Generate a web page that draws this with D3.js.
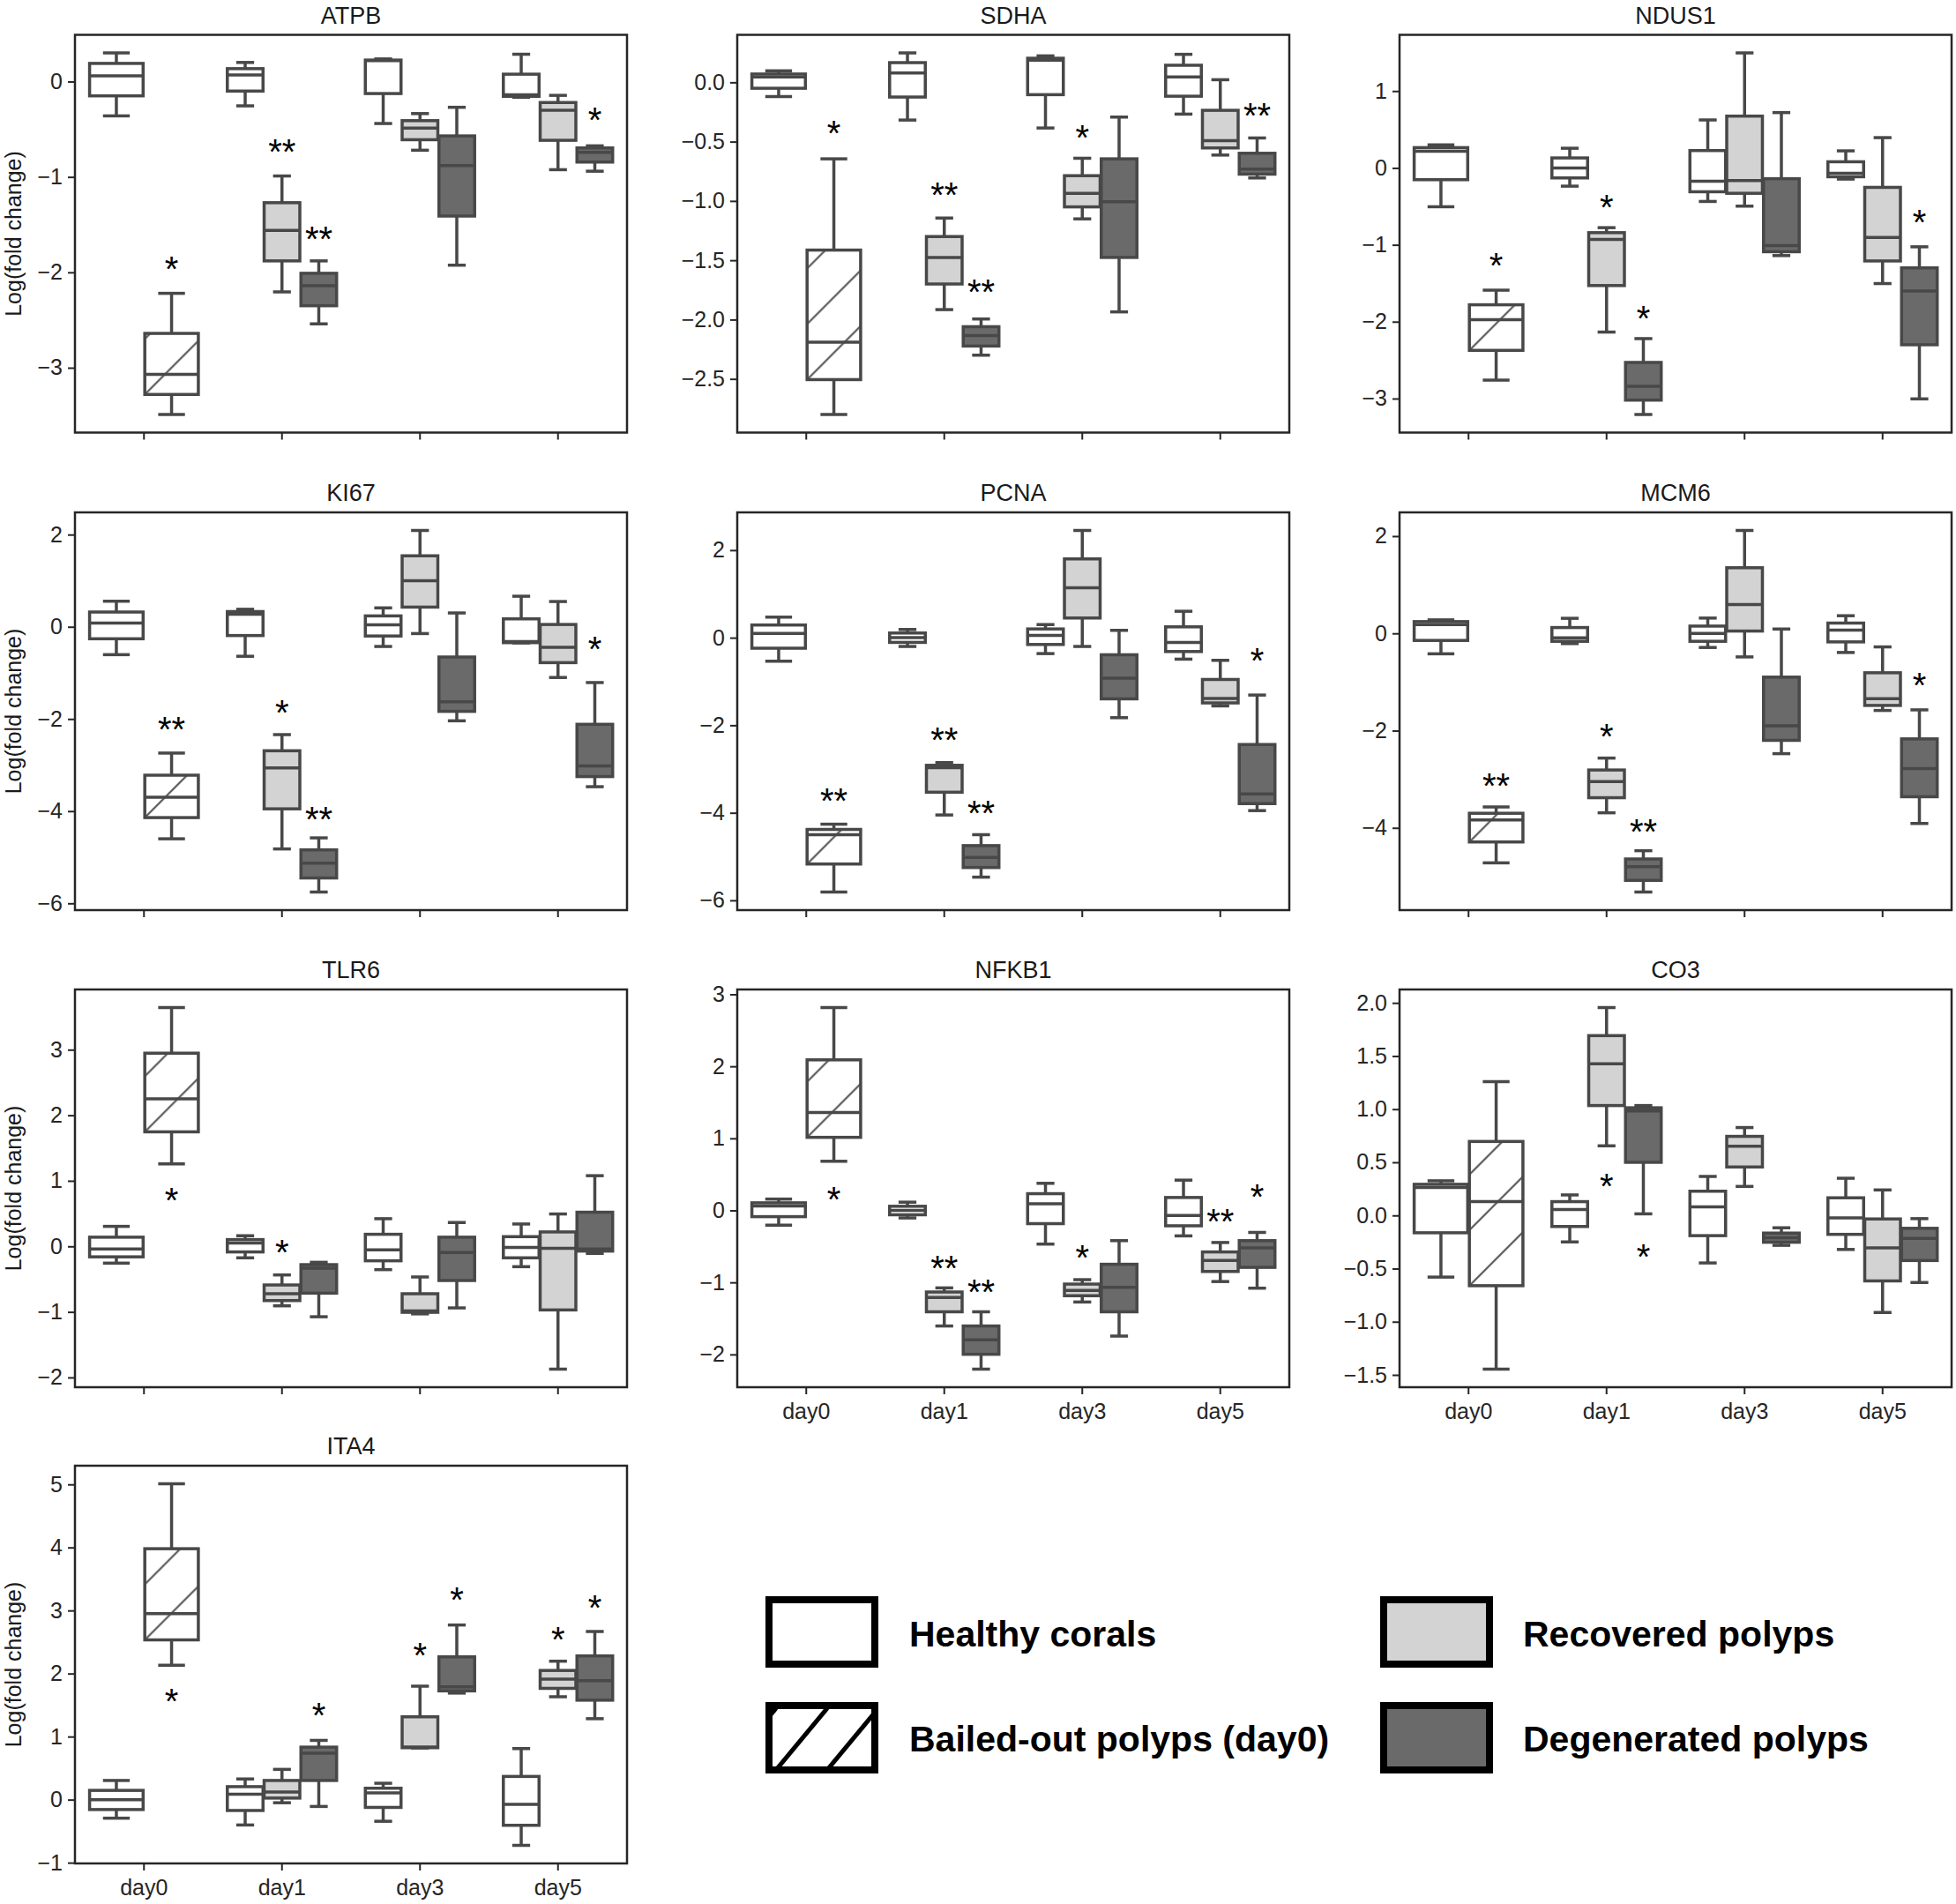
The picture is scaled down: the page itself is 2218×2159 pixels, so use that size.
<!DOCTYPE html>
<html>
<head>
<meta charset="utf-8">
<script src="https://cdn.jsdelivr.net/npm/d3@7"></script>
<style>
  body { margin: 0; background: #fff; }
  text { font-family: "Liberation Sans", Arial, Helvetica, sans-serif; }
</style>
</head>
<body>
<svg id="chart" width="2218" height="2159"></svg>
<script>
const days = ["day0", "day1", "day3", "day5"];
const genes = ["ATPB", "SDHA", "NDUS1", "KI67", "PCNA", "MCM6", "TLR6", "NFKB1", "CO3", "ITA4"];
const groupKeys = ["H", "B", "R", "D"];
const groupNames = ["Healthy corals", "Bailed-out polyps (day0)", "Recovered polyps", "Degenerated polyps"];

// rows: [day, group, low whisker, Q1, median, Q3, high whisker]
const atpb = [
  ["day0", "H", -0.36, -0.15, 0.06, 0.19, 0.30],
  ["day0", "B", -3.49, -3.28, -3.07, -2.64, -2.22],
  ["day1", "H", -0.255, -0.10, 0.07, 0.135, 0.20],
  ["day1", "R", -2.205, -1.88, -1.56, -1.27, -0.99],
  ["day1", "D", -2.54, -2.35, -2.14, -2.01, -1.88],
  ["day3", "H", -0.44, -0.126, 0.22, 0.225, 0.237],
  ["day3", "R", -0.72, -0.61, -0.487, -0.41, -0.336],
  ["day3", "D", -1.925, -1.41, -0.88, -0.57, -0.27],
  ["day5", "H", -0.165, -0.155, -0.14, 0.077, 0.286],
  ["day5", "R", -0.924, -0.616, -0.30, -0.22, -0.145],
  ["day5", "D", -0.94, -0.844, -0.742, -0.696, -0.674]
];
const sdha = [
  ["day0", "H", -0.12, -0.05, 0.045, 0.07, 0.097],
  ["day0", "B", -2.80, -2.506, -2.19, -1.414, -0.645],
  ["day1", "H", -0.318, -0.124, 0.079, 0.166, 0.248],
  ["day1", "R", -1.916, -1.70, -1.476, -1.30, -1.144],
  ["day1", "D", -2.30, -2.223, -2.134, -2.06, -1.995],
  ["day3", "H", -0.385, -0.104, 0.186, 0.203, 0.223],
  ["day3", "R", -1.151, -1.05, -0.935, -0.787, -0.64],
  ["day3", "D", -1.935, -1.476, -1.007, -0.645, -0.293],
  ["day5", "H", -0.268, -0.117, 0.045, 0.144, 0.236],
  ["day5", "R", -0.613, -0.553, -0.491, -0.236, 0.022],
  ["day5", "D", -0.806, -0.774, -0.732, -0.598, -0.469]
];
const ndus1 = [
  ["day0", "H", -0.505, -0.153, 0.218, 0.264, 0.30],
  ["day0", "B", -2.76, -2.373, -1.975, -1.78, -1.59],
  ["day1", "H", -0.237, -0.13, 0.0, 0.13, 0.256],
  ["day1", "R", -2.135, -1.53, -0.93, -0.842, -0.777],
  ["day1", "D", -3.207, -3.02, -2.84, -2.53, -2.22],
  ["day3", "H", -0.436, -0.31, -0.172, 0.226, 0.624],
  ["day3", "R", -0.497, -0.33, -0.165, 0.674, 1.496],
  ["day3", "D", -1.14, -1.09, -1.01, -0.14, 0.72],
  ["day5", "H", -0.145, -0.115, -0.069, 0.08, 0.222],
  ["day5", "R", -1.504, -1.21, -0.903, -0.253, 0.394],
  ["day5", "D", -3.004, -2.30, -1.60, -1.30, -1.026]
];
const ki67 = [
  ["day0", "H", -0.605, -0.26, 0.083, 0.32, 0.555],
  ["day0", "B", -4.60, -4.14, -3.70, -3.22, -2.74],
  ["day1", "H", -0.64, -0.19, 0.27, 0.33, 0.38],
  ["day1", "R", -4.82, -3.95, -3.06, -2.69, -2.34],
  ["day1", "D", -5.755, -5.45, -5.13, -4.84, -4.58],
  ["day3", "H", -0.427, -0.20, 0.045, 0.236, 0.41],
  ["day3", "R", -0.147, 0.427, 1.0, 1.54, 2.09],
  ["day3", "D", -2.04, -1.835, -1.625, -0.656, 0.30],
  ["day5", "H", -0.35, -0.344, -0.32, 0.172, 0.663],
  ["day5", "R", -1.10, -0.778, -0.446, 0.05, 0.548],
  ["day5", "D", -3.47, -3.25, -3.02, -2.116, -1.21]
];
const pcna = [
  ["day0", "H", -0.537, -0.24, 0.10, 0.29, 0.47],
  ["day0", "B", -5.81, -5.17, -4.50, -4.38, -4.26],
  ["day1", "H", -0.20, -0.107, 0.0, 0.107, 0.188],
  ["day1", "R", -4.05, -3.53, -2.97, -2.915, -2.854],
  ["day1", "D", -5.47, -5.25, -5.02, -4.75, -4.50],
  ["day3", "H", -0.363, -0.155, 0.054, 0.20, 0.30],
  ["day3", "R", -0.20, 0.45, 1.14, 1.80, 2.45],
  ["day3", "D", -1.827, -1.397, -0.927, -0.39, 0.168],
  ["day5", "H", -0.49, -0.316, -0.107, 0.248, 0.604],
  ["day5", "R", -1.558, -1.49, -1.39, -0.954, -0.517],
  ["day5", "D", -3.95, -3.79, -3.57, -2.44, -1.31]
];
const mcm6 = [
  ["day0", "H", -0.42, -0.145, 0.18, 0.242, 0.278],
  ["day0", "B", -4.72, -4.29, -3.835, -3.70, -3.57],
  ["day1", "H", -0.21, -0.163, -0.09, 0.12, 0.31],
  ["day1", "R", -3.69, -3.38, -3.05, -2.81, -2.565],
  ["day1", "D", -5.32, -5.08, -4.80, -4.64, -4.47],
  ["day3", "H", -0.29, -0.163, 0.0, 0.15, 0.315],
  ["day3", "R", -0.484, 0.048, 0.593, 1.35, 2.117],
  ["day3", "D", -2.474, -2.20, -1.90, -0.90, 0.09],
  ["day5", "H", -0.393, -0.175, 0.067, 0.212, 0.363],
  ["day5", "R", -1.585, -1.482, -1.343, -0.81, -0.278],
  ["day5", "D", -3.91, -3.36, -2.78, -2.17, -1.573]
];
const tlr6 = [
  ["day0", "H", -0.256, -0.16, -0.04, 0.14, 0.305],
  ["day0", "B", 1.258, 1.747, 2.25, 2.947, 3.643],
  ["day1", "H", -0.175, -0.085, 0.05, 0.103, 0.162],
  ["day1", "R", -0.907, -0.827, -0.723, -0.589, -0.436],
  ["day1", "D", -1.074, -0.714, -0.332, -0.279, -0.243],
  ["day3", "H", -0.355, -0.22, -0.054, 0.184, 0.422],
  ["day3", "R", -1.03, -1.006, -0.984, -0.723, -0.467],
  ["day3", "D", -0.939, -0.521, -0.094, 0.14, 0.364],
  ["day5", "H", -0.31, -0.175, -0.018, 0.148, 0.341],
  ["day5", "R", -1.873, -0.97, -0.031, 0.22, 0.494],
  ["day5", "D", -0.108, -0.072, -0.04, 0.521, 1.078]
];
const nfkb1 = [
  ["day0", "H", -0.205, -0.087, 0.061, 0.105, 0.157],
  ["day0", "B", 0.682, 1.014, 1.36, 2.09, 2.816],
  ["day1", "H", -0.105, -0.061, 0.0, 0.057, 0.114],
  ["day1", "R", -1.605, -1.408, -1.21, -1.133, -1.076],
  ["day1", "D", -2.204, -1.998, -1.797, -1.605, -1.408],
  ["day3", "H", -0.468, -0.184, 0.092, 0.232, 0.376],
  ["day3", "R", -1.272, -1.185, -1.111, -1.023, -0.962],
  ["day3", "D", -1.745, -1.408, -1.067, -0.748, -0.42],
  ["day5", "H", -0.354, -0.214, -0.07, 0.179, 0.42],
  ["day5", "R", -0.988, -0.848, -0.695, -0.577, -0.446],
  ["day5", "D", -1.08, -0.791, -0.52, -0.42, -0.306]
];
const co3 = [
  ["day0", "H", -0.58, -0.163, 0.264, 0.293, 0.326],
  ["day0", "B", -1.446, -0.661, 0.13, 0.696, 1.259],
  ["day1", "H", -0.249, -0.104, 0.056, 0.13, 0.193],
  ["day1", "R", 0.655, 1.034, 1.428, 1.692, 1.956],
  ["day1", "D", 0.015, 0.50, 0.984, 1.013, 1.034],
  ["day3", "H", -0.447, -0.19, 0.08, 0.228, 0.367],
  ["day3", "R", 0.273, 0.456, 0.652, 0.744, 0.827],
  ["day3", "D", -0.281, -0.252, -0.21, -0.166, -0.116],
  ["day5", "H", -0.32, -0.178, -0.024, 0.166, 0.35],
  ["day5", "R", -0.913, -0.616, -0.305, -0.033, 0.24],
  ["day5", "D", -0.631, -0.424, -0.216, -0.121, -0.03]
];
const ita4 = [
  ["day0", "H", -0.294, -0.157, 0.0, 0.147, 0.304],
  ["day0", "B", 2.132, 2.534, 2.95, 3.98, 5.01],
  ["day1", "H", -0.402, -0.172, 0.088, 0.206, 0.328],
  ["day1", "R", -0.049, 0.025, 0.123, 0.304, 0.48],
  ["day1", "D", -0.108, 0.304, 0.735, 0.833, 0.94],
  ["day3", "H", -0.343, -0.123, 0.108, 0.181, 0.26],
  ["day3", "R", 0.82, 0.824, 0.833, 1.314, 1.80],
  ["day3", "D", 1.69, 1.725, 1.79, 2.265, 2.77],
  ["day5", "H", -0.725, -0.407, -0.074, 0.368, 0.81],
  ["day5", "R", 1.632, 1.765, 1.912, 2.049, 2.196],
  ["day5", "D", 1.284, 1.578, 1.887, 2.28, 2.667]
];

// significance marks: [day, group, y value, label]
const atpbStars = [["day0", "B", -1.88, "*"], ["day1", "R", -0.656, "**"], ["day1", "D", -1.565, "**"], ["day5", "D", -0.317, "*"]];
const sdhaStars = [["day0", "B", -0.36, "*"], ["day1", "R", -0.88, "**"], ["day1", "D", -1.70, "**"], ["day3", "R", -0.40, "*"], ["day5", "D", -0.21, "**"]];
const ndus1Stars = [["day0", "B", -1.16, "*"], ["day1", "R", -0.406, "*"], ["day1", "D", -1.85, "*"], ["day5", "D", -0.605, "*"]];
const ki67Stars = [["day0", "B", -2.05, "**"], ["day1", "R", -1.69, "*"], ["day1", "D", -4.0, "**"], ["day5", "D", -0.306, "*"]];
const pcnaStars = [["day0", "B", -3.54, "**"], ["day1", "R", -2.16, "**"], ["day1", "D", -3.83, "**"], ["day5", "D", -0.35, "*"]];
const mcm6Stars = [["day0", "B", -2.98, "**"], ["day1", "R", -1.95, "*"], ["day1", "D", -3.92, "**"], ["day5", "D", -0.90, "*"]];
const tlr6Stars = [["day0", "B", 0.83, "*"], ["day1", "R", 0.027, "*"]];
const nfkb1Stars = [["day0", "B", 0.267, "*"], ["day1", "R", -0.687, "**"], ["day1", "D", -1.023, "**"], ["day3", "R", -0.542, "*"], ["day5", "R", -0.04, "**"], ["day5", "D", 0.30, "*"]];
const co3Stars = [["day1", "R", 0.347, "*"], ["day1", "D", -0.314, "*"]];
const ita4Stars = [["day0", "B", 1.69, "*"], ["day1", "D", 1.47, "*"], ["day3", "R", 2.417, "*"], ["day3", "D", 3.29, "*"], ["day5", "R", 2.67, "*"], ["day5", "D", 3.17, "*"]];

const yTicks = [
  [-3, -2, -1, 0],
  [-2.5, -2, -1.5, -1, -0.5, 0],
  [-3, -2, -1, 0, 1],
  [-6, -4, -2, 0, 2],
  [-6, -4, -2, 0, 2],
  [-4, -2, 0, 2],
  [-2, -1, 0, 1, 2, 3],
  [-2, -1, 0, 1, 2, 3],
  [-1.5, -1, -0.5, 0, 0.5, 1, 1.5, 2],
  [-1, 0, 1, 2, 3, 4, 5]
];

const boxes = [atpb, sdha, ndus1, ki67, pcna, mcm6, tlr6, nfkb1, co3, ita4];
const stars = [atpbStars, sdhaStars, ndus1Stars, ki67Stars, pcnaStars, mcm6Stars, tlr6Stars, nfkb1Stars, co3Stars, ita4Stars];

// ---- layout / style ----
const fills = { H: "#ffffff", B: "#ffffff", R: "#d3d3d3", D: "#6a6a6a" };
const lineCol = "#484848";
const W = 626, H = 451;
const colX = [85, 836, 1587];
const rowY = [39.5, 581, 1122, 1662];
const HATCH = 63;

const svg = d3.select("#chart");
const defs = svg.append("defs");

function drawPanel(i) {
  const data = boxes[i];
  const x0 = colX[i % 3], y0 = rowY[Math.floor(i / 3)];

  const x = d3.scaleBand().domain(days).range([x0, x0 + W]);
  const lo = d3.min(data, (d) => d[2]);
  const hi = d3.max(data, (d) => d[6]);
  const pad = (hi - lo) * 0.05;
  const y = d3.scaleLinear().domain([lo - pad, hi + pad]).range([y0 + H, y0]);

  // each day splits 80% of its band between the groups present that day
  const slot = (day, grp) => {
    const present = data.filter((d) => d[0] === day).map((d) => d[1]);
    const sw = (x.bandwidth() * 0.8) / present.length;
    return { c: x(day) + x.bandwidth() * 0.1 + sw * (present.indexOf(grp) + 0.5), w: sw };
  };

  const g = svg.append("g");

  const decimals = yTicks[i].some((t) => !Number.isInteger(t));
  const yAxis = d3
    .axisLeft(y)
    .tickValues(yTicks[i])
    .tickFormat(d3.format(decimals ? ".1f" : "d"))
    .tickSize(8)
    .tickPadding(6);
  const ya = g.append("g").attr("transform", "translate(" + x0 + ",0)").call(yAxis);

  const xAxis = d3.axisBottom(x).tickSize(8).tickPadding(10);
  if (i < 7) xAxis.tickFormat("");
  const xa = g.append("g").attr("transform", "translate(0," + (y0 + H) + ")").call(xAxis);

  [ya, xa].forEach((a) => {
    a.select(".domain").remove();
    a.selectAll(".tick line").attr("stroke", "#262626").attr("stroke-width", 2);
    a.selectAll(".tick text")
      .attr("font-size", 25)
      .attr("fill", "#262626")
      .style("font-family", '"Liberation Sans", Arial, sans-serif');
  });

  g.append("rect")
    .attr("x", x0)
    .attr("y", y0)
    .attr("width", W)
    .attr("height", H)
    .attr("fill", "none")
    .attr("stroke", "#262626")
    .attr("stroke-width", 2.5);

  g.append("text")
    .attr("x", x0 + W / 2)
    .attr("y", y0 - 13)
    .attr("text-anchor", "middle")
    .attr("font-size", 27)
    .attr("fill", "#1a1a1a")
    .text(genes[i]);

  if (i % 3 === 0) {
    g.append("text")
      .attr("transform", "translate(24," + (y0 + H / 2) + ") rotate(-90)")
      .attr("text-anchor", "middle")
      .attr("font-size", 25)
      .attr("fill", "#1a1a1a")
      .text("Log(fold change)");
  }

  const bg = g.selectAll("g.box").data(data).enter().append("g").attr("class", "box");
  bg.each(function (d, k) {
    const s = slot(d[0], d[1]);
    const bw = s.w * 0.97;
    const left = s.c - bw / 2;
    const el = d3.select(this);
    const ln = (x1, y1, x2, y2) =>
      el.append("line")
        .attr("x1", x1).attr("y1", y1).attr("x2", x2).attr("y2", y2)
        .attr("stroke", lineCol).attr("stroke-width", 3.5);

    ln(s.c, y(d[5]), s.c, y(d[6]));
    ln(s.c, y(d[3]), s.c, y(d[2]));
    ln(s.c - bw / 4, y(d[6]), s.c + bw / 4, y(d[6]));
    ln(s.c - bw / 4, y(d[2]), s.c + bw / 4, y(d[2]));

    el.append("rect")
      .attr("x", left)
      .attr("y", y(d[5]))
      .attr("width", bw)
      .attr("height", y(d[3]) - y(d[5]))
      .attr("fill", fills[d[1]]);

    if (d[1] === "B") {
      const pid = "hatch" + i + "_" + k;
      const p = defs.append("pattern")
        .attr("id", pid)
        .attr("patternUnits", "userSpaceOnUse")
        .attr("x", left)
        .attr("y", y(d[3]))
        .attr("width", HATCH)
        .attr("height", HATCH);
      [[0, HATCH, HATCH, 0], [-2, 2, 2, -2], [HATCH - 2, HATCH + 2, HATCH + 2, HATCH - 2]].forEach((c) => {
        p.append("line")
          .attr("x1", c[0]).attr("y1", c[1]).attr("x2", c[2]).attr("y2", c[3])
          .attr("stroke", "#555").attr("stroke-width", 2.2);
      });
      el.append("rect")
        .attr("x", left)
        .attr("y", y(d[5]))
        .attr("width", bw)
        .attr("height", y(d[3]) - y(d[5]))
        .attr("fill", "url(#" + pid + ")");
    }

    el.append("rect")
      .attr("x", left)
      .attr("y", y(d[5]))
      .attr("width", bw)
      .attr("height", y(d[3]) - y(d[5]))
      .attr("fill", "none")
      .attr("stroke", lineCol)
      .attr("stroke-width", 3.5);

    ln(left, y(d[4]), left + bw, y(d[4]));
  });

  g.selectAll("text.star")
    .data(stars[i])
    .enter()
    .append("text")
    .attr("class", "star")
    .attr("x", (d) => slot(d[0], d[1]).c)
    .attr("y", (d) => y(d[2]) + 23)
    .attr("text-anchor", "middle")
    .attr("font-size", 40)
    .attr("fill", "#000")
    .text((d) => d[3]);
}

genes.forEach((gname, i) => drawPanel(i));

// legend
const lp = defs.append("pattern")
  .attr("id", "legendHatch")
  .attr("patternUnits", "userSpaceOnUse")
  .attr("x", 880)
  .attr("y", 2007)
  .attr("width", 58)
  .attr("height", 70);
[[0, 0, 58, -70], [58, 0, 116, -70], [0, 70, 58, 0], [58, 70, 116, 0], [-58, 70, 0, 0]].forEach((c) => {
  lp.append("line")
    .attr("x1", c[0]).attr("y1", c[1]).attr("x2", c[2]).attr("y2", c[3])
    .attr("stroke", "#000").attr("stroke-width", 5);
});

const legendPos = [
  { x: 872, y: 1814, tx: 1031, ty: 1867 },
  { x: 872, y: 1934, tx: 1031, ty: 1986 },
  { x: 1569, y: 1814, tx: 1727, ty: 1867 },
  { x: 1569, y: 1934, tx: 1727, ty: 1986 }
];
const lg = svg.append("g");
groupKeys.forEach((k, j) => {
  const p = legendPos[j];
  lg.append("rect")
    .attr("x", p.x).attr("y", p.y).attr("width", 120).attr("height", 73)
    .attr("fill", fills[k]);
  if (k === "B") {
    lg.append("rect")
      .attr("x", p.x).attr("y", p.y).attr("width", 120).attr("height", 73)
      .attr("fill", "url(#legendHatch)");
  }
  lg.append("rect")
    .attr("x", p.x).attr("y", p.y).attr("width", 120).attr("height", 73)
    .attr("fill", "none").attr("stroke", "#000").attr("stroke-width", 8);
  lg.append("text")
    .attr("x", p.tx).attr("y", p.ty)
    .attr("font-size", 41)
    .attr("font-weight", "bold")
    .attr("fill", "#000")
    .text(groupNames[j]);
});
</script>
</body>
</html>
